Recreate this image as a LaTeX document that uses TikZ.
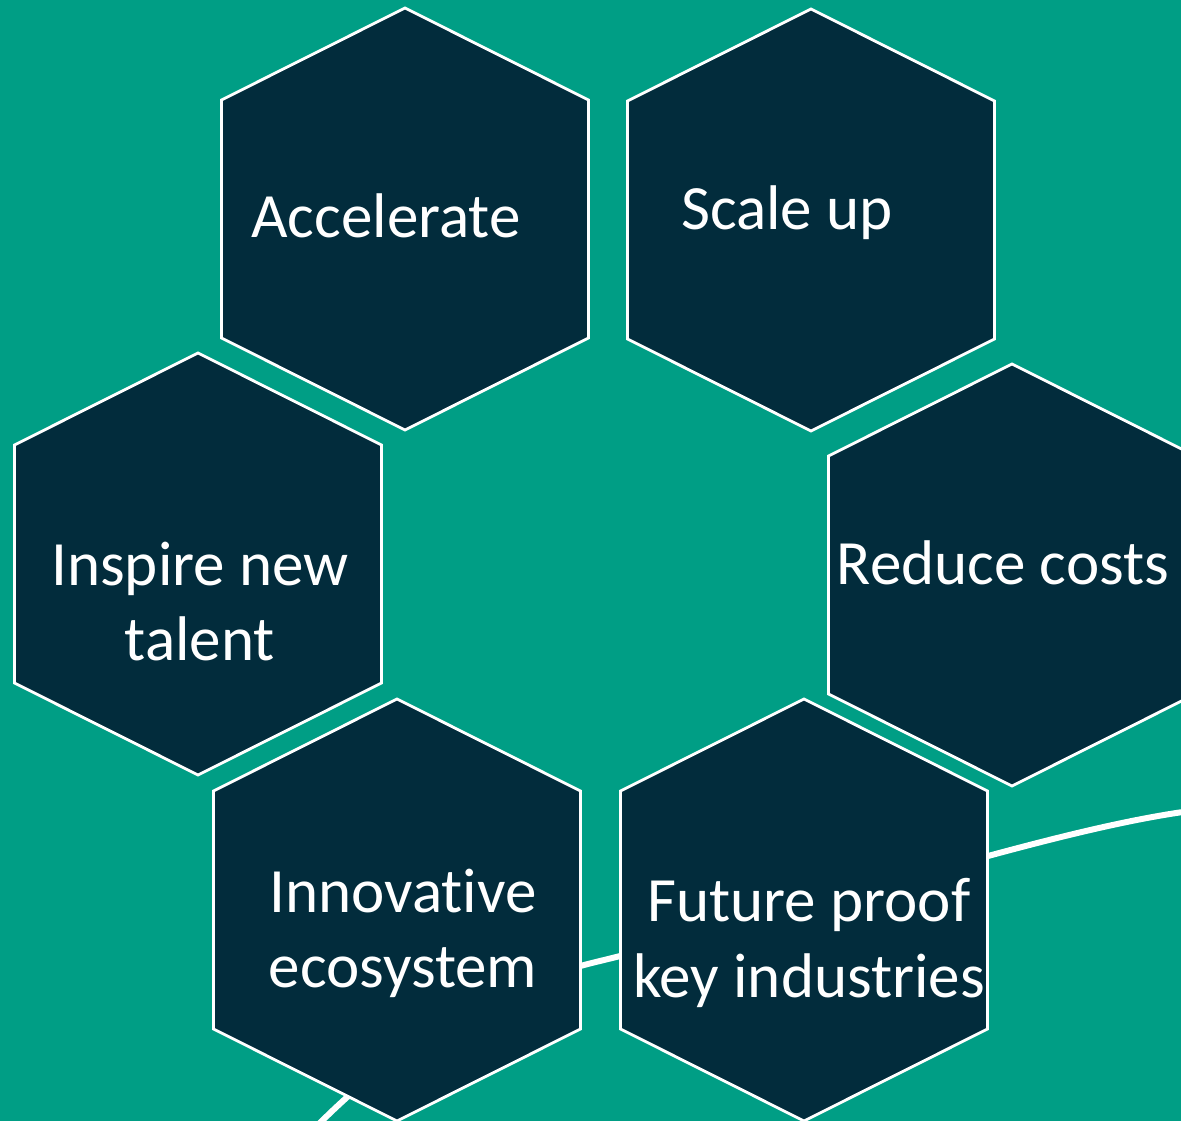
\documentclass[tikz,border=0pt]{standalone}
\usepackage{fontspec}
\setmainfont{Carlito}[Ligatures={NoCommon}]
\definecolor{bgteal}{RGB}{0,158,133}
\definecolor{hexnavy}{RGB}{2,44,60}

\begin{document}
\begin{tikzpicture}[
      x=0.02cm, y=-0.02cm,
      hexa/.style ={draw=white, line width=1.6pt, fill=hexnavy, line join=miter},
      word/.style ={text=white, font=\fontsize{35.9}{42.7}\selectfont, align=center, anchor=base},
      swoosh/.style={draw=white, line width=3.4pt}
    ]
    \fill [bgteal] (0,0) rectangle (1181,1121) ;
    \clip (0,0) rectangle (1181,1121) ;

    % curve behind the hexagons
    \draw [swoosh] (310,1133) .. controls (400,1040) and (498,985) .. (600,961)
                   .. controls (850,900) and (1050,830) .. (1190,811) ;

    % hexagons, drawn from their top corner
    \draw [hexa] (405,8) -- ++(183.5,92) -- ++(0,238) -- ++(-183.5,92) -- ++(-183.5,-92) -- ++(0,-238) -- cycle ;
    \draw [hexa] (811,9) -- ++(183.5,92) -- ++(0,238) -- ++(-183.5,92) -- ++(-183.5,-92) -- ++(0,-238) -- cycle ;
    \draw [hexa] (198,353) -- ++(183.5,92) -- ++(0,238) -- ++(-183.5,92) -- ++(-183.5,-92) -- ++(0,-238) -- cycle ;
    \draw [hexa] (1012,364) -- ++(183.5,92) -- ++(0,238) -- ++(-183.5,92) -- ++(-183.5,-92) -- ++(0,-238) -- cycle ;
    \draw [hexa] (397,699) -- ++(183.5,92) -- ++(0,238) -- ++(-183.5,92) -- ++(-183.5,-92) -- ++(0,-238) -- cycle ;
    \draw [hexa] (804,699) -- ++(183.5,92) -- ++(0,238) -- ++(-183.5,92) -- ++(-183.5,-92) -- ++(0,-238) -- cycle ;

    \node [word] (accel) at (386,238) {Accelerate} ;
    \node [word] (scale) at (787,230) {Scale up} ;
    \node [word] (inspire) at (200,661) {Inspire new\\talent} ;
    \node [word] (reduce) at (1003,585) {Reduce costs} ;
    \node [word] (innov) at (403,988) {Innovative\\ecosystem} ;
    \node [word] (future) at (809,997) {Future proof\\key industries} ;
  \end{tikzpicture}
\end{document}
